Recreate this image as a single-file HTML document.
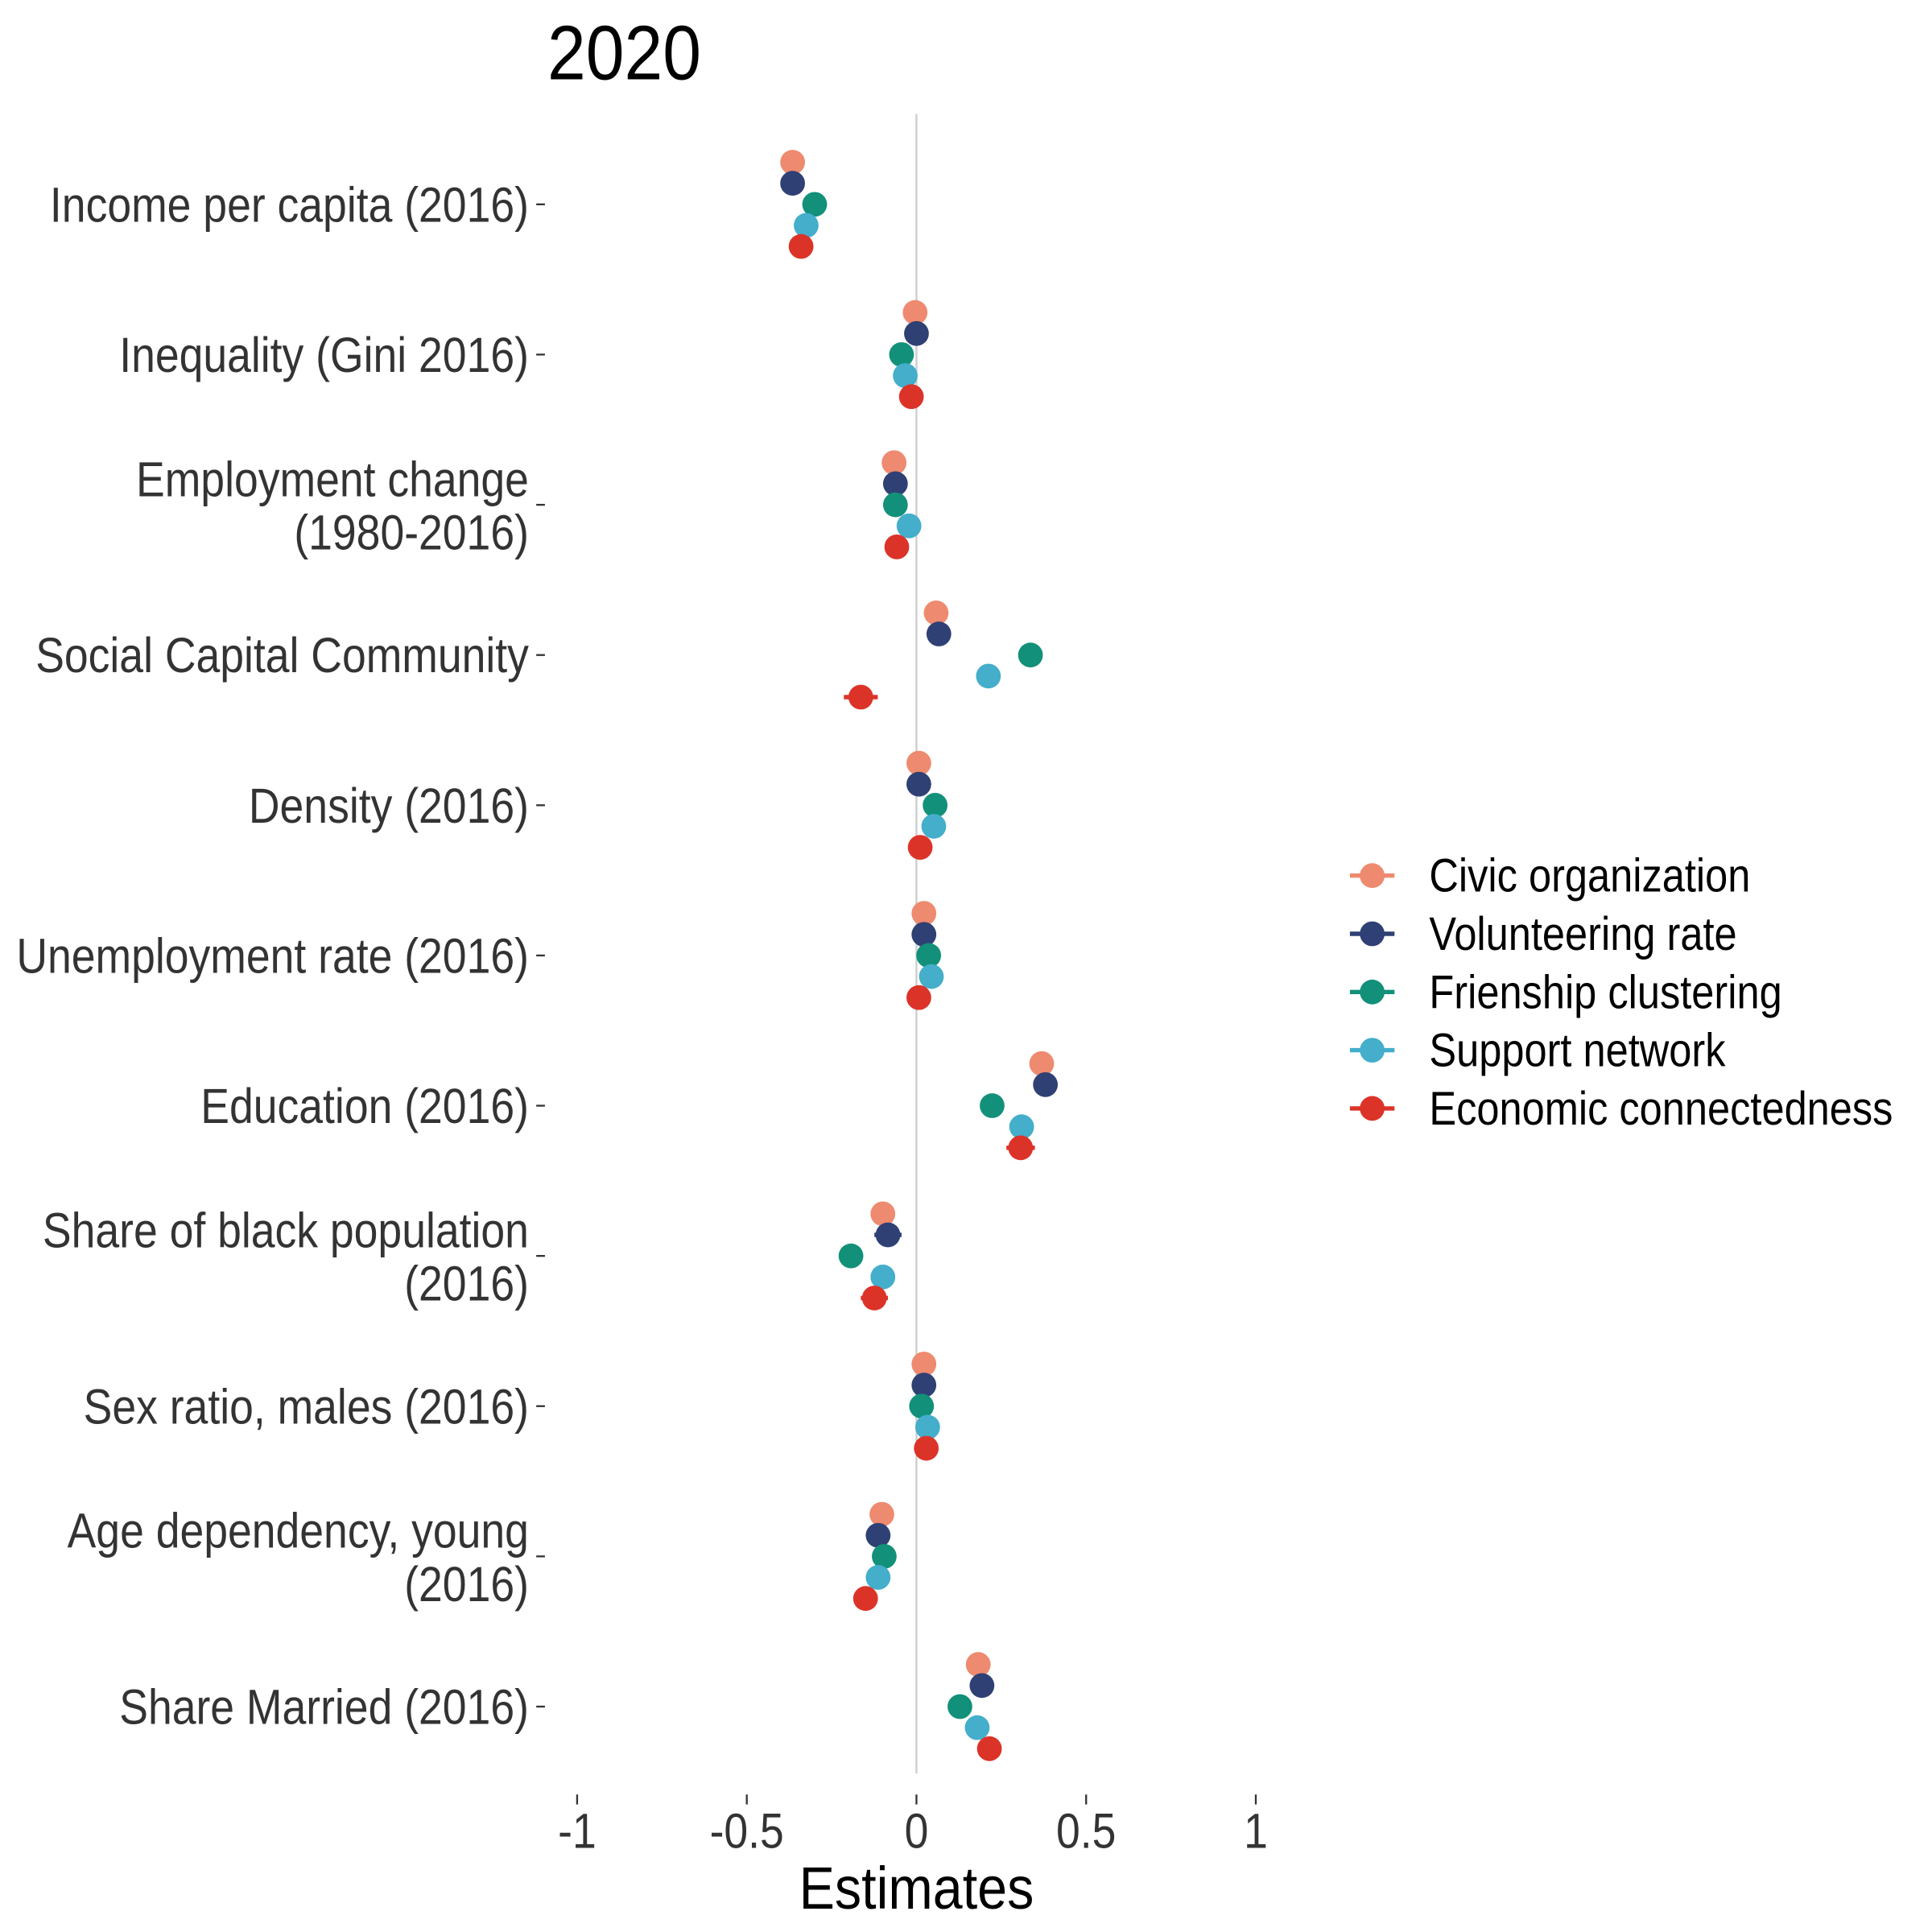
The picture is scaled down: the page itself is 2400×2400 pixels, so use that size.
<!DOCTYPE html>
<html><head><meta charset="utf-8"><style>
html,body{margin:0;padding:0;background:#fff}
svg{display:block}
text{font-family:"Liberation Sans",sans-serif}
</style></head><body>
<svg id="chart" width="2400" height="2400" viewBox="0 0 1560 1560" xmlns="http://www.w3.org/2000/svg">
<g transform="translate(442,64) scale(0.9,1)"><text x="0" y="0" font-size="62" fill="#000">2020</text></g>
<line x1="740" y1="92" x2="740" y2="1432" stroke="#cccccc" stroke-width="1.5"/>
<g id="yaxis"></g>
<g id="xaxis"></g>
<g id="marks"></g>
<g transform="translate(740,1541) scale(0.9,1)"><text x="0" y="0" font-size="48" text-anchor="middle" fill="#000">Estimates</text></g>
<g id="legend"></g>
</svg>
<script>
const categories = [["Income per capita (2016)"],["Inequality (Gini 2016)"],["Employment change","(1980-2016)"],["Social Capital Community"],["Density (2016)"],["Unemployment rate (2016)"],["Education (2016)"],["Share of black population","(2016)"],["Sex ratio, males (2016)"],["Age dependency, young","(2016)"],["Share Married (2016)"]];
const seriesNames = ["Civic organization","Volunteering rate","Frienship clustering","Support network","Economic connectedness"];
const civic   = [-0.365,-0.004,-0.066,0.058,0.007,0.022,0.369,-0.099,0.022,-0.102,0.182];
const volunteer=[-0.365,0.000,-0.062,0.066,0.007,0.022,0.380,-0.084,0.022,-0.113,0.193];
const friend  = [-0.300,-0.044,-0.062,0.336,0.055,0.036,0.223,-0.193,0.015,-0.095,0.128];
const support = [-0.325,-0.033,-0.022,0.212,0.051,0.044,0.310,-0.099,0.033,-0.113,0.179];
const econ    = [-0.340,-0.015,-0.058,-0.164,0.011,0.007,0.307,-0.124,0.029,-0.150,0.215];
const civicCI = [0.01,0.01,0.01,0.01,0.01,0.01,0.01,0.036,0.01,0.01,0.01];
const volunteerCI=[0.01,0.01,0.01,0.01,0.01,0.01,0.01,0.04,0.01,0.01,0.01];
const friendCI= [0.01,0.01,0.01,0.01,0.01,0.01,0.01,0.01,0.01,0.01,0.01];
const supportCI=[0.01,0.01,0.01,0.01,0.01,0.01,0.01,0.01,0.01,0.01,0.01];
const econCI  = [0.01,0.01,0.01,0.05,0.01,0.01,0.042,0.04,0.01,0.01,0.01];
const xTicks = [-1,-0.5,0,0.5,1];
const xTickLabels = ["-1","-0.5","0","0.5","1"];
const colors = ["#EE8A6F","#2F4074","#12907A","#44AECB","#DC3328"];
const allSeries=[civic,volunteer,friend,support,econ];
const allCI=[civicCI,volunteerCI,friendCI,supportCI,econCI];
const NS="http://www.w3.org/2000/svg";
function xs(v){return 740+v*274;}
function ys(i){return 165+i*121.3;}
function mk(tag,attrs,parent){const e=document.createElementNS(NS,tag);for(const k in attrs)e.setAttribute(k,attrs[k]);parent.appendChild(e);return e;}
function sg(x,y,sx,parent){return mk('g',{transform:'translate('+x+','+y+') scale('+sx+',1)'},parent);}
const yaxis=document.getElementById('yaxis'),xaxis=document.getElementById('xaxis'),marks=document.getElementById('marks'),legend=document.getElementById('legend');
categories.forEach((lines,i)=>{
  const y=ys(i);
  const t=mk('line',{x1:433,x2:440,y1:y,y2:y,stroke:'#333','stroke-width':1.5},yaxis);
  
  
  const g=sg(427,y,0.87,yaxis);
  const tx=mk('text',{x:0,'text-anchor':'end','font-size':40,fill:'#333'},g);
  
  
  if(lines.length===1){tx.setAttribute('y',14);tx.textContent=lines[0];}
  else{lines.forEach((l,j)=>{const ts=mk('tspan',{x:0,y:-7+j*43},tx);ts.textContent=l;});}
});
xTicks.forEach((v,i)=>{
  const x=xs(v);
  const t=mk('line',{x1:x,x2:x,y1:1449,y2:1457,stroke:'#333','stroke-width':1.5},xaxis);
  
  
  const g=sg(x,1492,0.87,xaxis);
  const tx=mk('text',{x:0,y:0,'text-anchor':'middle','font-size':40,fill:'#333'},g);
  
  
  tx.textContent=xTickLabels[i];
});
allSeries.forEach((s,k)=>{
  s.forEach((v,i)=>{
    const y=ys(i)+(k-2)*17;
    const ci=allCI[k][i];
    const l=mk('line',{x1:xs(v-ci),x2:xs(v+ci),y1:y,y2:y,stroke:colors[k],'stroke-width':3.5},marks);
    
    
    const c=mk('circle',{cx:xs(v),cy:y,r:10,fill:colors[k]},marks);
    
    
  });
});
seriesNames.forEach((n,k)=>{
  const y=707+k*47;
  const g=mk('g',{},legend);
  
  
  mk('line',{x1:1090,x2:1126,y1:y,y2:y,stroke:colors[k],'stroke-width':3.5},g);
  mk('circle',{cx:1108,cy:y,r:10,fill:colors[k]},g);
  const tg=sg(1154,y+13,0.865,g);
  const t=mk('text',{x:0,y:0,'font-size':38,fill:'#000'},tg);
  t.textContent=n;
});
</script>
</body></html>
